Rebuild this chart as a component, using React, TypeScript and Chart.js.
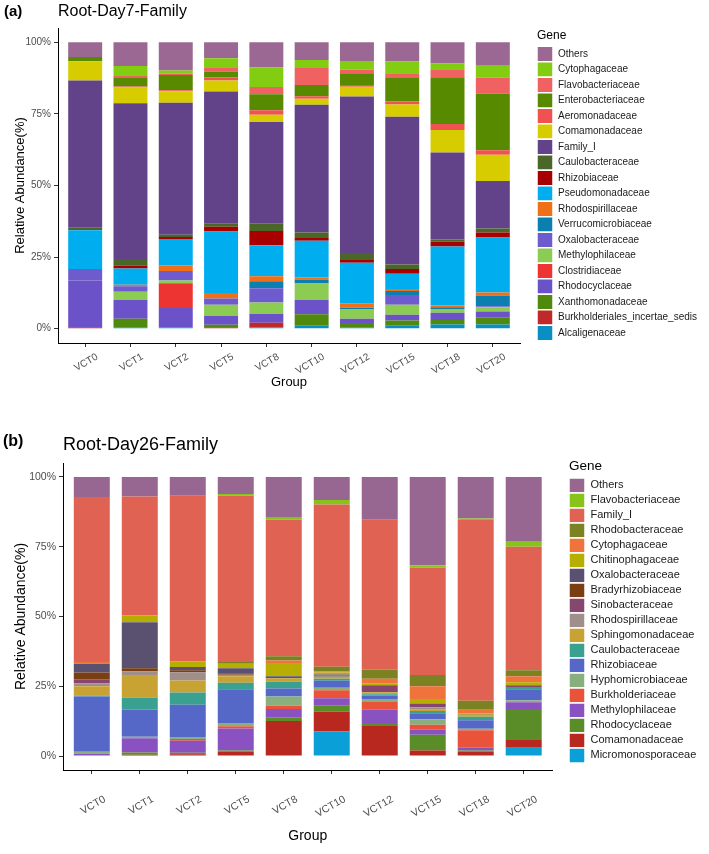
import React, { useEffect, useRef } from "react";
import { Chart, registerables } from "chart.js";

Chart.register(...registerables);

const FONT = '"Liberation Sans", Arial, Helvetica, sans-serif';

const groups = ["VCT0", "VCT1", "VCT2", "VCT5", "VCT8", "VCT10", "VCT12", "VCT15", "VCT18", "VCT20"];
const yTickValues = [0, 25, 50, 75, 100];

// ---------- (a) Root-Day7-Family : values per family, in group order ----------
const d7Others = [5.1, 8.3, 9.8, 5.6, 8.8, 6.2, 6.5, 6.7, 7.4, 8.2];
const d7Cytophagaceae = [0, 3.2, 1.1, 3.1, 6.8, 2.8, 3.0, 4.1, 2.0, 4.2];
const d7Flavobacteriaceae = [0, 1.0, 0.5, 1.5, 2.5, 5.9, 1.3, 1.7, 2.8, 5.5];
const d7Enterobacteriaceae = [1.5, 2.9, 5.3, 2.1, 5.6, 3.9, 4.1, 8.2, 16.3, 19.8];
const d7Aeromonadaceae = [0, 0.4, 0.4, 1.0, 1.6, 0.9, 0.6, 1.0, 2.1, 1.6];
const d7Comamonadaceae = [6.7, 5.5, 4.0, 3.9, 2.5, 2.1, 3.4, 4.3, 7.9, 9.1];
const d7FamilyI = [51.3, 54.4, 46.1, 46.2, 35.4, 44.6, 54.7, 51.6, 30.4, 16.6];
const d7Caulobacteraceae = [1.0, 2.2, 0.8, 1.0, 2.7, 1.9, 2.4, 1.6, 0.7, 1.4];
const d7Rhizobiaceae = [0, 1.1, 0.7, 1.7, 5.0, 1.0, 1.0, 1.6, 1.7, 1.8];
const d7Pseudomonadaceae = [13.6, 5.7, 9.2, 21.4, 10.8, 12.8, 14.1, 5.3, 20.6, 19.2];
const d7Rhodospirillaceae = [0, 0.5, 2.0, 2.0, 1.7, 0.7, 1.6, 0.7, 0.6, 1.0];
const d7Verrucomicrobiaceae = [0, 0, 0, 0, 2.5, 1.4, 0.6, 1.4, 0.6, 3.8];
const d7Oxalobacteraceae = [4.0, 1.9, 3.3, 2.1, 5.0, 0, 0, 3.4, 0, 0.3];
const d7Methylophilaceae = [0, 2.9, 0.9, 4.0, 4.0, 5.8, 3.2, 3.5, 1.3, 1.5];
const d7Clostridiaceae = [0, 0, 8.7, 0, 0, 0, 0, 0, 0, 0];
const d7Rhodocyclaceae = [16.3, 6.5, 6.7, 3.0, 3.0, 5.0, 1.5, 2.0, 2.6, 2.0];
const d7Xanthomonadaceae = [0, 3.0, 0, 0.9, 0, 4.0, 1.5, 1.9, 1.5, 2.5];
const d7Burkholderiales = [0.5, 0, 0, 0.5, 1.6, 0, 0, 0, 0, 0];
const d7Alcaligenaceae = [0, 0.5, 0.5, 0, 0.5, 1.0, 0.5, 1.0, 1.5, 1.5];

// stack order: bottom -> top
const day7Families = [
  "Alcaligenaceae", "Burkholderiales_incertae_sedis", "Xanthomonadaceae", "Rhodocyclaceae",
  "Clostridiaceae", "Methylophilaceae", "Oxalobacteraceae", "Verrucomicrobiaceae",
  "Rhodospirillaceae", "Pseudomonadaceae", "Rhizobiaceae", "Caulobacteraceae", "Family_I",
  "Comamonadaceae", "Aeromonadaceae", "Enterobacteriaceae", "Flavobacteriaceae",
  "Cytophagaceae", "Others",
];
const day7Values = [
  d7Alcaligenaceae, d7Burkholderiales, d7Xanthomonadaceae, d7Rhodocyclaceae,
  d7Clostridiaceae, d7Methylophilaceae, d7Oxalobacteraceae, d7Verrucomicrobiaceae,
  d7Rhodospirillaceae, d7Pseudomonadaceae, d7Rhizobiaceae, d7Caulobacteraceae, d7FamilyI,
  d7Comamonadaceae, d7Aeromonadaceae, d7Enterobacteriaceae, d7Flavobacteriaceae,
  d7Cytophagaceae, d7Others,
];
const day7Colors = [
  "#0a8fc4", "#c0282a", "#4f8a0f", "#6c52c8",
  "#ee3333", "#8ccc52", "#6e5ccf", "#0b80b0",
  "#f07018", "#00aeef", "#a80000", "#4a6628", "#62438a",
  "#d6cc00", "#f05252", "#588a00", "#f06262",
  "#82cc12", "#9a6892",
];

// ---------- (b) Root-Day26-Family ----------
const d26Others = [7.2, 7.0, 6.7, 6.1, 14.6, 8.3, 15.3, 31.6, 14.9, 23.2];
const d26Flavobacteriaceae = [0, 0, 0, 0.6, 0.7, 1.6, 0, 0.8, 0.5, 1.8];
const d26FamilyI = [59.1, 42.6, 59.3, 59.6, 48.9, 58.1, 53.7, 38.6, 64.8, 44.3];
const d26Rhodobacteraceae = [0, 0, 0, 0.6, 1.6, 1.6, 3.3, 4.0, 3.2, 2.1];
const d26Cytophagaceae = [0.6, 0, 0, 0, 0.9, 0.5, 1.6, 4.6, 1.3, 2.2];
const d26Chitinophagaceae = [0, 2.5, 2.1, 1.6, 4.7, 0.7, 0.7, 1.6, 0.5, 1.0];
const d26Oxalobacteraceae = [3.2, 16.4, 1.2, 1.8, 0.7, 0.4, 0, 0, 0, 0];
const d26Bradyrhizobiaceae = [2.4, 1.1, 0.7, 0.6, 0, 0, 0, 0, 0, 0];
const d26Sinobacteraceae = [1.4, 0, 0, 0, 0, 0, 2.5, 1.3, 0.3, 0.7];
const d26Rhodospirillaceae = [1.1, 1.4, 2.9, 0.5, 0, 0.5, 0, 0.9, 0, 0];
const d26Sphingomonadaceae = [3.4, 8.1, 4.3, 2.3, 1.3, 0.6, 0.8, 0.5, 0.4, 0];
const d26Caulobacteraceae = [0.3, 4.2, 4.4, 2.4, 2.4, 0.7, 0.5, 0.8, 1.3, 0.8];
const d26Rhizobiaceae = [19.8, 9.8, 11.6, 12.1, 2.9, 2.5, 1.2, 2.1, 3.0, 3.9];
const d26Hyphomicrobiaceae = [0.8, 0.5, 0.7, 1.1, 3.3, 0.9, 1.0, 2.0, 0.6, 0.7];
const d26Burkholderiaceae = [0, 0, 0.6, 0.8, 1.1, 2.9, 2.8, 1.8, 6.2, 0];
const d26Methylophilaceae = [0.7, 5.1, 4.3, 7.9, 3.0, 2.7, 4.8, 1.8, 1.0, 2.4];
const d26Rhodocyclaceae = [0, 0.8, 0.6, 0.5, 1.3, 2.1, 0.8, 5.6, 0.5, 10.9];
const d26Comamonadaceae = [0, 0.5, 0.6, 1.5, 12.6, 7.1, 11.0, 2.0, 1.5, 3.0];
const d26Micromonosporaceae = [0, 0, 0, 0, 0, 8.8, 0, 0, 0, 3.0];

const day26Families = [
  "Micromonosporaceae", "Comamonadaceae", "Rhodocyclaceae", "Methylophilaceae",
  "Burkholderiaceae", "Hyphomicrobiaceae", "Rhizobiaceae", "Caulobacteraceae",
  "Sphingomonadaceae", "Rhodospirillaceae", "Sinobacteraceae", "Bradyrhizobiaceae",
  "Oxalobacteraceae", "Chitinophagaceae", "Cytophagaceae", "Rhodobacteraceae",
  "Family_I", "Flavobacteriaceae", "Others",
];
const day26Values = [
  d26Micromonosporaceae, d26Comamonadaceae, d26Rhodocyclaceae, d26Methylophilaceae,
  d26Burkholderiaceae, d26Hyphomicrobiaceae, d26Rhizobiaceae, d26Caulobacteraceae,
  d26Sphingomonadaceae, d26Rhodospirillaceae, d26Sinobacteraceae, d26Bradyrhizobiaceae,
  d26Oxalobacteraceae, d26Chitinophagaceae, d26Cytophagaceae, d26Rhodobacteraceae,
  d26FamilyI, d26Flavobacteriaceae, d26Others,
];
const day26Colors = [
  "#0a9fd6", "#b8281e", "#5a8c28", "#8a52c0",
  "#e8533a", "#88b07e", "#5568c8", "#3aa090",
  "#c8a232", "#a08e8a", "#86466e", "#7a3e12",
  "#5a5170", "#b6ae00", "#ee743c", "#7a8222",
  "#e06252", "#86c41a", "#976791",
];

const BOX_W = 16;

type PanelProps = {
  tag: string;
  title: string;
  families: string[];
  values: number[][];
  colors: string[];
  width: number;
  height: number;
  padTop: number;
  topSpacer: number;
  plotLeft: number;
  axisHeight: number;
  legendLeft: number;
  gap: number;
  titleY: number;
  tagY: number;
  tagX: number;
  titleSize: number;
  tagSize: number;
  tickSize: number;
  axisTitleSize: number;
  legendSize: number;
  legendBoxH: number;
  legendTitleSize: number;
  legendTitlePad: { top: number; bottom: number };
  yTitlePad: number;
  xTitlePad: number;
  xTickPad: number;
  labelOffset: number;
};

function Panel(p: PanelProps) {
  const ref = useRef<HTMLCanvasElement>(null);

  useEffect(() => {
    const canvas = ref.current;
    if (!canvas) return;

    const m = document.createElement("canvas").getContext("2d");
    let legendWidth = 160;
    if (m) {
      m.font = `normal ${p.legendSize}px ${FONT}`;
      const maxW = Math.max(...p.families.map((f) => m.measureText(f).width));
      legendWidth = BOX_W + p.legendSize / 2 + maxW + 10;
    }
    const padRight = Math.max(0, p.width - p.legendLeft - legendWidth);

    const titlePlugin = {
      id: "panelTitle",
      afterDraw(chart: any) {
        const ctx = chart.ctx as CanvasRenderingContext2D;
        ctx.save();
        ctx.fillStyle = "#000";
        ctx.textBaseline = "middle";
        ctx.textAlign = "left";
        ctx.font = `bold ${p.tagSize}px ${FONT}`;
        ctx.fillText(p.tag, p.tagX, p.tagY);
        ctx.font = `normal ${p.titleSize}px ${FONT}`;
        ctx.fillText(p.title, chart.chartArea.left, p.titleY);
        ctx.restore();
      },
    };

    const scales: any = {
      x: {
        type: "linear",
        stacked: true,
        min: -0.6,
        max: 9.6,
        offset: false,
        afterBuildTicks: (s: any) => {
          s.ticks = groups.map((_, i) => ({ value: i }));
        },
        afterFit: (s: any) => {
          s.height = p.axisHeight;
        },
        ticks: {
          autoSkip: false,
          minRotation: 30,
          maxRotation: 30,
          labelOffset: p.labelOffset,
          padding: p.xTickPad,
          color: "#4d4d4d",
          font: { size: p.tickSize, family: FONT },
          callback: (v: any) => groups[v as number] ?? "",
        },
        grid: {
          display: true,
          offset: false,
          drawOnChartArea: false,
          drawTicks: true,
          tickLength: 4,
          color: "#333333",
          lineWidth: 1,
        },
        border: { display: true, color: "#000", width: 1 },
        title: {
          display: true,
          text: "Group",
          color: "#000",
          font: { size: p.axisTitleSize, family: FONT },
          padding: { top: 0, bottom: p.xTitlePad },
        },
      },
      y: {
        type: "linear",
        stacked: true,
        min: -5,
        max: 105,
        afterBuildTicks: (s: any) => {
          s.ticks = yTickValues.map((v) => ({ value: v }));
        },
        afterFit: (s: any) => {
          s.width = p.plotLeft;
        },
        ticks: {
          padding: 3,
          color: "#4d4d4d",
          font: { size: p.tickSize, family: FONT },
          callback: (v: any) => `${v}%`,
        },
        grid: {
          display: true,
          drawOnChartArea: false,
          drawTicks: true,
          tickLength: 4,
          color: "#333333",
          lineWidth: 1,
        },
        border: { display: true, color: "#000", width: 1 },
        title: {
          display: true,
          text: "Relative Abundance(%)",
          color: "#000",
          font: { size: p.axisTitleSize, family: FONT },
          padding: { top: p.yTitlePad, bottom: 0 },
        },
      },
      gap: {
        type: "linear",
        axis: "y",
        position: "right",
        display: true,
        grid: { display: false },
        border: { display: false },
        ticks: { display: false },
        title: { display: false },
        afterFit: (s: any) => {
          s.width = p.gap;
        },
      },
    };
    if (p.topSpacer > 0) {
      scales.spacer = {
        type: "linear",
        axis: "x",
        position: "top",
        display: true,
        grid: { display: false },
        border: { display: false },
        ticks: { display: false },
        title: { display: false },
        afterFit: (s: any) => {
          s.height = p.topSpacer;
        },
      };
    }

    const chart = new Chart(canvas, {
      type: "bar",
      data: {
        datasets: p.families.map((f, k) => ({
          label: f,
          data: p.values[k].map((v, i) => ({ x: i, y: v })),
          backgroundColor: p.colors[k],
          borderWidth: 0,
          xAxisID: "x",
          yAxisID: "y",
          categoryPercentage: 0.75,
          barPercentage: 1,
        })),
      },
      options: {
        responsive: false,
        animation: false,
        layout: { padding: { top: p.padTop, left: 0, right: padRight, bottom: 0 } },
        plugins: {
          tooltip: { enabled: false },
          title: { display: false },
          legend: {
            display: true,
            position: "right",
            align: "start",
            reverse: true,
            maxWidth: 300,
            title: {
              display: true,
              text: "Gene",
              position: "start",
              color: "#000",
              font: { size: p.legendTitleSize, family: FONT, lineHeight: 1.1 },
              padding: p.legendTitlePad,
            },
            labels: {
              boxWidth: BOX_W,
              boxHeight: p.legendBoxH,
              padding: 0,
              color: "#1a1a1a",
              font: { size: p.legendSize, family: FONT },
              generateLabels: (c: any) =>
                Chart.defaults.plugins.legend.labels
                  .generateLabels(c)
                  .map((it: any) => ({ ...it, strokeStyle: "#ffffff", lineWidth: 1.5 })),
            },
          },
        },
        scales,
      } as any,
      plugins: [titlePlugin],
    });

    return () => chart.destroy();
  }, []);

  return (
    <canvas
      ref={ref}
      width={p.width}
      height={p.height}
      style={{ display: "block", width: p.width, height: p.height }}
    />
  );
}

export default function App() {
  return (
    <div style={{ width: 709, height: 854, background: "#ffffff", overflow: "hidden" }}>
      <style>{"html,body{margin:0;padding:0;background:#ffffff;}"}</style>
      <Panel
        tag="(a)"
        title="Root-Day7-Family"
        families={day7Families}
        values={day7Values}
        colors={day7Colors}
        width={709}
        height={412}
        padTop={28}
        topSpacer={0}
        plotLeft={58}
        axisHeight={69}
        legendLeft={537}
        gap={17}
        titleY={12}
        tagY={12}
        tagX={4}
        titleSize={16}
        tagSize={15}
        tickSize={10}
        axisTitleSize={13}
        legendSize={10}
        legendBoxH={15.5}
        legendTitleSize={12}
        legendTitlePad={{ top: 2, bottom: 3 }}
        yTitlePad={13}
        xTitlePad={22}
        xTickPad={4}
        labelOffset={12}
      />
      <Panel
        tag="(b)"
        title="Root-Day26-Family"
        families={day26Families}
        values={day26Values}
        colors={day26Colors}
        width={709}
        height={442}
        padTop={44}
        topSpacer={7}
        plotLeft={63}
        axisHeight={84}
        legendLeft={569}
        gap={16.5}
        titleY={33}
        tagY={30}
        tagX={3}
        titleSize={18}
        tagSize={16}
        tickSize={10.5}
        axisTitleSize={14}
        legendSize={11}
        legendBoxH={15}
        legendTitleSize={13.5}
        legendTitlePad={{ top: 3.25, bottom: 3.8 }}
        yTitlePad={13}
        xTitlePad={9.5}
        xTickPad={19}
        labelOffset={13}
      />
    </div>
  );
}
